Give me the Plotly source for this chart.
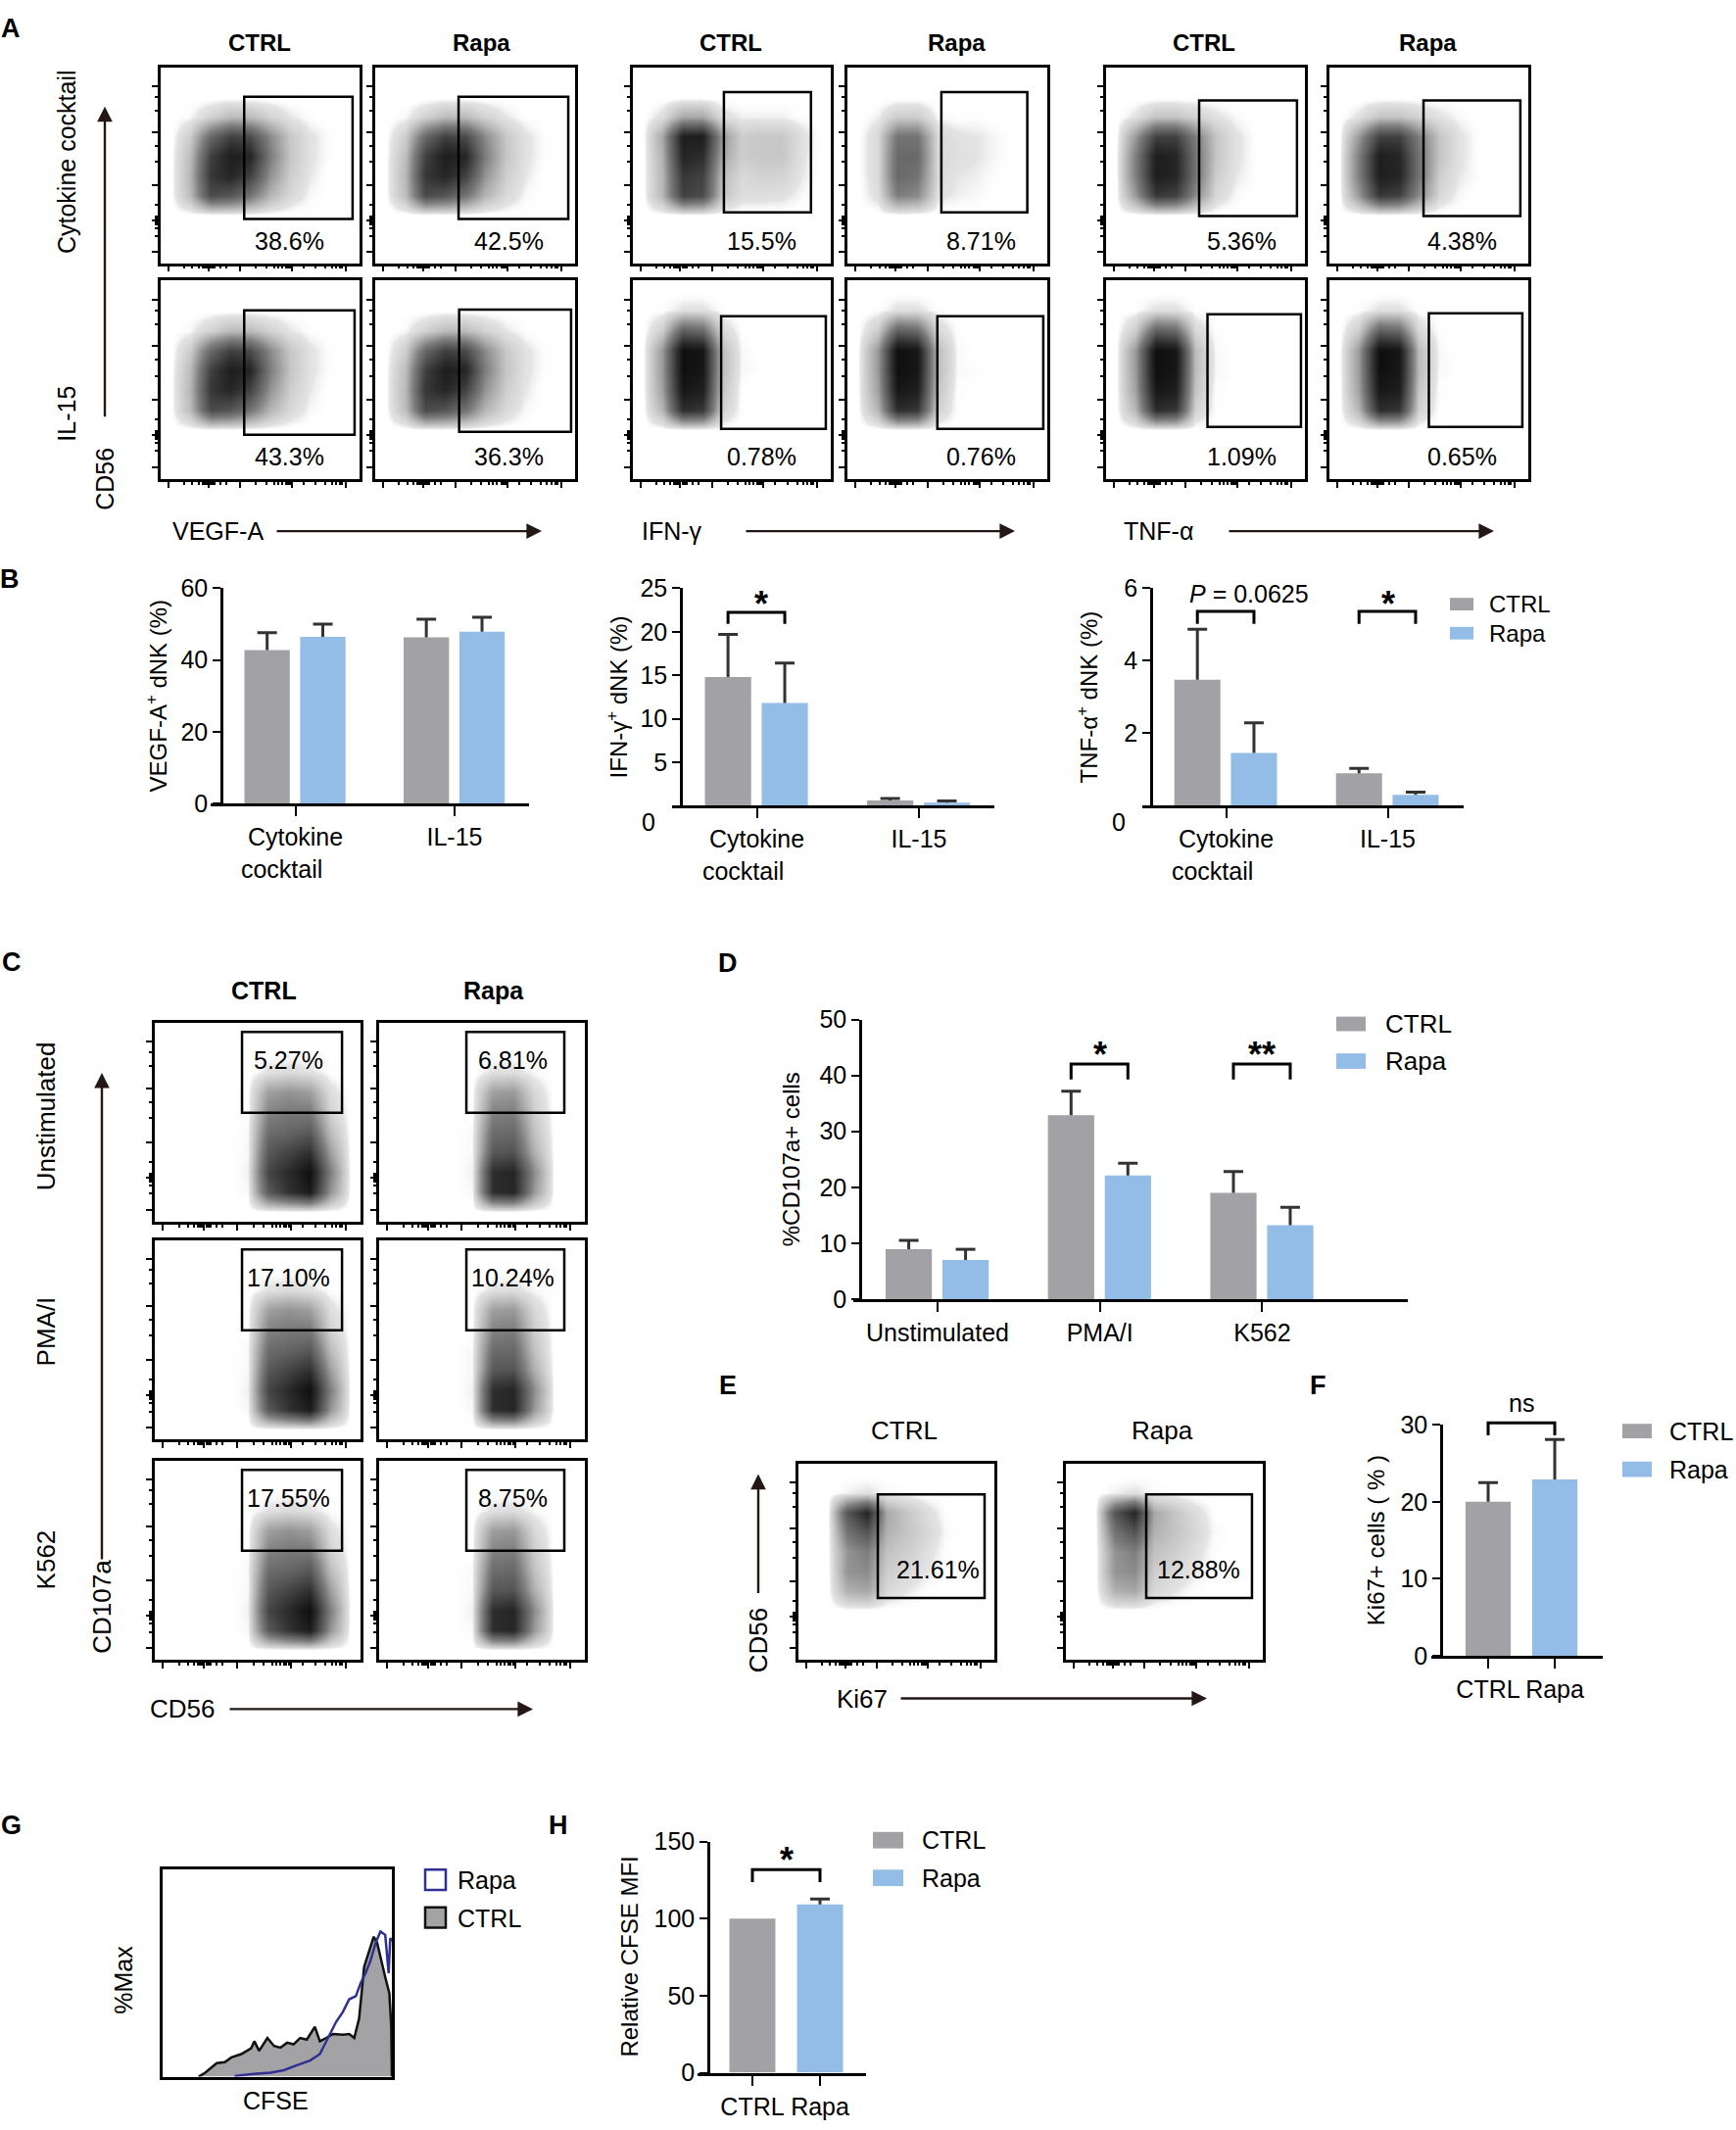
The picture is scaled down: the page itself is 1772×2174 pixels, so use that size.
import plotly.graph_objects as go

W, H = 1772, 2174
FONT = "Liberation Sans, Arial, sans-serif"
GREY = "#a2a2a6"
BLUE = "#93bde6"
INK = "#231815"
NB = "\u00a0"

# ---------------- data ----------------
# A - flow plots: gated percentages
a_titles = ["CTRL", "Rapa", "CTRL", "Rapa", "CTRL", "Rapa"]
a_pct_cocktail = ["38.6%", "42.5%", "15.5%", "8.71%", "5.36%", "4.38%"]
a_pct_il15 = ["43.3%", "36.3%", "0.78%", "0.76%", "1.09%", "0.65%"]
a_markers = ["VEGF-A", "IFN-γ", "TNF-α"]

# B - bar charts (mean, upper error)
b_groups = ["Cytokine<br>cocktail" + NB * 4, "IL-15"]
vegf_ctrl = [42.8, 46.3]
vegf_ctrl_err = [4.8, 5.1]
vegf_rapa = [46.5, 47.9]
vegf_rapa_err = [3.5, 4.0]
ifng_ctrl = [14.8, 0.6]
ifng_ctrl_err = [4.9, 0.25]
ifng_rapa = [11.8, 0.35]
ifng_rapa_err = [4.6, 0.2]
tnfa_ctrl = [3.48, 0.9]
tnfa_ctrl_err = [1.39, 0.13]
tnfa_rapa = [1.46, 0.3]
tnfa_rapa_err = [0.83, 0.08]

# C - CD107a flow plots
c_rows = ["Unstimulated", "PMA/I", "K562"]
c_pct = [["5.27%", "6.81%"], ["17.10%", "10.24%"], ["17.55%", "8.75%"]]

# D
d_groups = ["Unstimulated", "PMA/I", "K562"]
cd107_ctrl = [8.9, 32.9, 19.0]
cd107_ctrl_err = [1.6, 4.3, 3.8]
cd107_rapa = [7.0, 22.1, 13.2]
cd107_rapa_err = [1.9, 2.2, 3.2]

# E / F
e_pct = ["21.61%", "12.88%"]
f_groups = ["CTRL", "Rapa"]
ki67_vals = [20.0, 22.9]
ki67_err = [2.5, 5.2]

# G - CFSE histogram (% of box height)
cfse_x_ctrl = [15.7, 18.6, 23.6, 27.1, 30.0, 34.3, 38.6, 40.0, 42.1, 45.7, 48.6, 51.4, 54.3,
               57.1, 60.0, 62.9, 66.4, 68.6, 71.4, 74.3, 78.6, 81.4, 83.6, 85.7, 87.9, 90.0,
               92.1, 93.6, 95.0, 97.1, 98.9, 99.7, 100]
cfse_y_ctrl = [0, 1.9, 6.5, 7.0, 9.3, 10.9, 13.7, 17.1, 12.5, 18.7, 14.8, 14.0, 16.4,
               15.6, 18.7, 17.9, 24.1, 17.1, 18.7, 20.6, 20.2, 20.6, 18.7, 28.0, 53.0, 60.7,
               67.6, 64.5, 57.5, 48.1, 40.3, 24.9, 0]
cfse_x_rapa = [31.4, 38.6, 47.1, 52.9, 58.6, 64.3, 68.6, 70.7, 72.9, 75.7, 78.6, 81.4,
               84.3, 86.4, 88.6, 90.7, 92.9, 95.0, 97.1, 98.6, 99.3, 100]
cfse_y_rapa = [0.3, 1.2, 1.9, 3.1, 5.5, 7.8, 10.9, 15.6, 20.2, 26.5, 31.2, 37.4,
               38.9, 45.2, 50.2, 56.1, 64.6, 70.1, 68.5, 50.0, 67.0, 65.4]

# H
h_groups = ["CTRL", "Rapa"]
cfse_mfi = [100, 109.3]
cfse_mfi_err = [0, 3.5]

# coarse event-density grids of the dot plots (rows top -> bottom, 10x10)
GRID = [0.05, 0.15, 0.25, 0.35, 0.45, 0.55, 0.65, 0.75, 0.85, 0.95]
Z = [0] * 10
vegf_cloud = [Z, Z,
              [0, .02, .10, .18, .18, .10, .04, .01, 0, 0],
              [0, .12, .50, .70, .65, .35, .14, .05, .01, 0],
              [0, .18, .70, .90, .85, .40, .15, .05, .01, 0],
              [0, .20, .75, .85, .70, .32, .12, .04, 0, 0],
              [0, .18, .65, .60, .45, .20, .08, .02, 0, 0],
              Z, Z, Z]
ifn_ctrl_cloud = [Z, Z,
                  [0, .06, .25, .25, .06, .03, .03, .03, .01, 0],
                  [0, .25, .90, .90, .30, .12, .14, .14, .06, 0],
                  [0, .22, .85, .80, .25, .12, .14, .14, .05, 0],
                  [0, .20, .75, .70, .18, .08, .10, .10, .04, 0],
                  [0, .20, .70, .65, .15, .06, .06, .05, .02, 0],
                  Z, Z, Z]
ifn_rapa_cloud = [Z, Z,
                  [0, .03, .12, .12, .02, .01, .01, 0, 0, 0],
                  [0, .08, .45, .45, .08, .05, .04, .02, 0, 0],
                  [0, .08, .50, .50, .08, .06, .04, .02, 0, 0],
                  [0, .08, .50, .45, .08, .04, .03, .01, 0, 0],
                  [0, .06, .40, .35, .05, .03, .02, 0, 0, 0],
                  Z, Z, Z]
column_cloud = [Z,
                [0, .01, .05, .05, .01, 0, 0, 0, 0, 0],
                [0, .12, .55, .50, .08, .01, 0, 0, 0, 0],
                [0, .30, 1.0, .95, .18, .02, 0, 0, 0, 0],
                [0, .30, 1.0, .95, .18, .02, .01, 0, 0, 0],
                [0, .28, .95, .90, .15, .01, 0, 0, 0, 0],
                [0, .20, .80, .75, .10, .01, 0, 0, 0, 0],
                Z, Z, Z]
tnf_cloud = [Z, Z,
             [0, .05, .15, .15, .10, .05, .02, 0, 0, 0],
             [0, .30, .70, .70, .40, .15, .05, .01, 0, 0],
             [0, .40, .90, .85, .45, .15, .05, .01, 0, 0],
             [0, .40, .90, .85, .45, .12, .04, .01, 0, 0],
             [0, .30, .75, .70, .35, .08, .02, 0, 0, 0],
             Z, Z, Z]
cd107_ctrl_cloud = [Z, Z,
                    [0, 0, 0, 0, 0, .05, .07, .05, .01, 0],
                    [0, 0, 0, 0, .01, .28, .32, .28, .06, 0],
                    [0, 0, 0, 0, .01, .38, .42, .42, .10, 0],
                    [0, 0, 0, 0, .02, .48, .52, .58, .18, 0],
                    [0, 0, 0, 0, .02, .58, .68, .78, .28, 0],
                    [0, 0, 0, 0, .03, .68, .82, 1.0, .40, 0],
                    [0, 0, 0, 0, .02, .58, .78, .92, .32, 0],
                    Z]
cd107_rapa_cloud = [Z, Z,
                    [0, 0, 0, 0, 0, .05, .06, .02, 0, 0],
                    [0, 0, 0, 0, .01, .28, .30, .08, 0, 0],
                    [0, 0, 0, 0, .01, .38, .40, .12, 0, 0],
                    [0, 0, 0, 0, .02, .48, .50, .16, 0, 0],
                    [0, 0, 0, 0, .02, .58, .60, .22, 0, 0],
                    [0, 0, 0, 0, .03, .80, .85, .35, 0, 0],
                    [0, 0, 0, 0, .02, .80, .85, .30, 0, 0],
                    Z]
ki67_cloud = [Z,
              [0, 0, .03, .05, .02, .01, 0, 0, 0, 0],
              [0, 0, .60, .85, .25, .15, .07, .01, 0, 0],
              [0, 0, .45, .60, .22, .15, .09, .02, 0, 0],
              [0, 0, .32, .40, .16, .12, .06, .01, 0, 0],
              [0, 0, .32, .35, .12, .08, .04, .01, 0, 0],
              [0, 0, .22, .25, .08, .04, .01, 0, 0, 0],
              Z, Z, Z]

DOT_SCALE = [[0, "rgba(255,255,255,0)"], [0.04, "rgb(228,228,228)"],
             [0.4, "rgb(125,125,125)"], [0.8, "rgb(45,45,45)"], [1, "rgb(15,15,15)"]]

# ---------------- helpers ----------------
traces, shapes, annots = [], [], []
layout = {}
counter = [0]


def fx(x):
    return x / W


def fy(y):
    return 1 - y / H


def new_axes():
    counter[0] += 1
    n = counter[0]
    sfx = "" if n == 1 else str(n)
    return "x" + sfx, "y" + sfx, "xaxis" + sfx, "yaxis" + sfx


def text(x, y, s, size=25, bold=False, angle=0, xanchor="center"):
    if bold:
        s = "<b>" + s + "</b>"
    annots.append(dict(x=fx(x), y=fy(y), xref="paper", yref="paper", text=s, showarrow=False,
                       font=dict(family=FONT, size=size, color="black"), textangle=angle,
                       xanchor=xanchor, yanchor="middle"))


def arrow(x0, y0, x1, y1):
    annots.append(dict(x=fx(x1), y=fy(y1), xref="paper", yref="paper", ax=x0 - x1, ay=y0 - y1,
                       axref="pixel", ayref="pixel", text="", showarrow=True, arrowhead=2,
                       arrowsize=1.3, arrowwidth=2.4, arrowcolor=INK))


def rect(x0, y0, x1, y1, fill, line_color, lw=0):
    shapes.append(dict(type="rect", xref="paper", yref="paper", x0=fx(x0), x1=fx(x1),
                       y0=fy(y1), y1=fy(y0), fillcolor=fill,
                       line=dict(color=line_color, width=lw)))


def bracket(xl, xr, yt, yb):
    path = "M{},{} L{},{} L{},{} L{},{}".format(fx(xl), fy(yb), fx(xl), fy(yt),
                                                fx(xr), fy(yt), fx(xr), fy(yb))
    shapes.append(dict(type="path", xref="paper", yref="paper", path=path,
                       line=dict(color="black", width=3)))


FLOW_XMAJ = [0.04, 0.24, 0.40, 0.66, 0.93]
FLOW_XMIN = [0.12, 0.16, 0.19, 0.21, 0.22, 0.23, 0.25, 0.26, 0.27, 0.30, 0.33, 0.48, 0.53,
             0.57, 0.59, 0.61, 0.63, 0.64, 0.65, 0.72, 0.78, 0.83, 0.86, 0.88, 0.90, 0.91]
FLOW_YMAJ = [0.06, 0.22, 0.40, 0.67, 0.905]
FLOW_YMIN = [0.14, 0.18, 0.20, 0.21, 0.23, 0.24, 0.30, 0.52, 0.60, 0.78, 0.85]


def flow_plot(box, grid, gate, label, label_xy):
    (x0, x1), (y0, y1) = box
    xid, yid, xk, yk = new_axes()
    common = dict(range=[0, 1], showline=True, mirror=True, linecolor="black", linewidth=2.5,
                  ticks="outside", ticklen=6, tickwidth=1.5, tickcolor="black",
                  showticklabels=False, showgrid=False, zeroline=False, fixedrange=True)
    layout[xk] = dict(common, domain=[fx(x0), fx(x1)], anchor=yid, tickvals=FLOW_XMAJ,
                      minor=dict(tickvals=FLOW_XMIN, ticklen=3, ticks="outside",
                                 tickcolor="black"))
    layout[yk] = dict(common, domain=[fy(y1), fy(y0)], anchor=xid, tickvals=FLOW_YMAJ,
                      minor=dict(tickvals=FLOW_YMIN, ticklen=3, ticks="outside",
                                 tickcolor="black"))
    traces.append(go.Heatmap(z=grid[::-1], x=GRID, y=GRID, zmin=0, zmax=1, zsmooth="best",
                             colorscale=DOT_SCALE, showscale=False, hoverinfo="skip",
                             xaxis=xid, yaxis=yid))
    gx0, gx1, gy0, gy1 = gate
    shapes.append(dict(type="rect", xref=xid, yref=yid, x0=gx0, x1=gx1, y0=gy0, y1=gy1,
                       line=dict(color="black", width=2.5)))
    annots.append(dict(x=label_xy[0], y=label_xy[1], xref=xid, yref=yid, text=label,
                       showarrow=False, font=dict(family=FONT, size=25, color="black")))


def bar_chart(g, cats, series, ytitle, ytitle_x):
    xid, yid, xk, yk = new_axes()
    r0 = (g["x0"] - g["c0"]) / g["step"]
    r1 = (g["x1"] - g["c0"]) / g["step"]
    layout[xk] = dict(domain=[fx(g["x0"]), fx(g["x1"])], range=[r0, r1], anchor=yid,
                      showline=True, linecolor="black", linewidth=3, ticks="outside",
                      ticklen=10, tickwidth=2, tickcolor="black",
                      tickvals=list(range(len(cats))), ticktext=cats,
                      tickfont=dict(family=FONT, size=25, color="black"),
                      showgrid=False, zeroline=False, fixedrange=True)
    layout[yk] = dict(domain=[fy(g["ybot"]), fy(g["ytop"])], range=[0, g["ymax"]],
                      anchor="free", position=fx(g["yax"]), showline=True, linecolor="black",
                      linewidth=2.5, ticks="outside", ticklen=8, tickwidth=2,
                      tickcolor="black", tickvals=g["ticks"],
                      tickfont=dict(family=FONT, size=25, color="black"),
                      showgrid=False, zeroline=False, fixedrange=True)
    cap = 10 / g["step"]
    for xs, vals, errs, color, off, wid in series:
        traces.append(go.Bar(x=xs, y=vals, offset=off, width=wid, xaxis=xid, yaxis=yid,
                             marker=dict(color=color, line=dict(width=0)), hoverinfo="skip"))
        wx, wy = [], []
        for x, v, e in zip(xs, vals, errs):
            if e <= 0:
                continue
            xc = x + off + wid / 2
            wx += [xc, xc, None, xc - cap, xc + cap, None]
            wy += [v, v + e, None, v + e, v + e, None]
        if wx:
            traces.append(go.Scatter(x=wx, y=wy, mode="lines", xaxis=xid, yaxis=yid,
                                     line=dict(color="#333333", width=3), hoverinfo="skip",
                                     cliponaxis=False))
    text(ytitle_x, (g["ytop"] + g["ybot"]) / 2, ytitle, size=24, angle=-90)


def cat_px(g, i, center):
    return g["c0"] + (i + center) * g["step"]


def legend(xs0, xs1, xt, rows, size=25):
    for y0, y1, color, label in rows:
        rect(xs0, y0, xs1, y1, color, color)
        text(xt, (y0 + y1) / 2, label, size=size, xanchor="left")


OFF_C, OFF_R, BW = -0.32, 0.03, 0.285
CEN_C, CEN_R = OFF_C + BW / 2, OFF_R + BW / 2

# ---------------- panel A ----------------
a_cols = [(164, 367), (383, 587), (646, 848), (865, 1069), (1129, 1332), (1357, 1560)]
a_rows = [(56, 258), (276, 481)]
a_title_x = [265, 492, 746, 976, 1229, 1457]
a_clouds = [[vegf_cloud, vegf_cloud, ifn_ctrl_cloud, ifn_rapa_cloud, tnf_cloud, tnf_cloud],
            [vegf_cloud, vegf_cloud, column_cloud, column_cloud, column_cloud, column_cloud]]
a_gates = [[(0.42, 0.965, 0.227, 0.852), (0.417, 0.966, 0.227, 0.852),
            (0.46, 0.90, 0.26, 0.876), (0.47, 0.90, 0.26, 0.876),
            (0.468, 0.96, 0.241, 0.833), (0.473, 0.96, 0.241, 0.833)],
           [(0.42, 0.975, 0.223, 0.85), (0.42, 0.98, 0.238, 0.854),
            (0.446, 0.975, 0.252, 0.82), (0.45, 0.98, 0.252, 0.82),
            (0.51, 0.98, 0.262, 0.83), (0.50, 0.97, 0.262, 0.835)]]
a_label_x = [0.65, 0.667, 0.653, 0.667, 0.68, 0.665]
for r, pcts in enumerate([a_pct_cocktail, a_pct_il15]):
    for c in range(6):
        flow_plot((a_cols[c], a_rows[r]), a_clouds[r][c], a_gates[r][c], pcts[c],
                  (a_label_x[c], 0.115))
for c in range(6):
    text(a_title_x[c], 30, a_titles[c], size=24, bold=True)
text(11, 15, "A", size=27, bold=True)
text(68, 153, "Cytokine cocktail", size=25, angle=-90)
text(68, 414, "IL-15", size=25, angle=-90)
text(107, 481, "CD56", size=25, angle=-90)
arrow(107, 414, 107, 96)
for lbl, lx, ax0, ax1 in zip(a_markers, [222, 686, 1182], [281, 760, 1253], [553, 1036, 1525]):
    text(lx, 535, lbl, size=25)
    arrow(ax0, 535, ax1, 535)

# ---------------- panel B ----------------
g_vegf = dict(x0=215, x1=540, c0=301.5, step=162.5, ytop=594, ybot=817, ymax=60,
              yax=226, ticks=[0, 20, 40, 60])
g_ifng = dict(x0=686, x1=1015, c0=772.5, step=165.5, ytop=594, ybot=819, ymax=25,
              yax=695, ticks=[5, 10, 15, 20, 25])
g_tnfa = dict(x0=1166, x1=1494, c0=1251.5, step=165, ytop=594, ybot=819, ymax=6,
              yax=1175, ticks=[2, 4, 6])
for g, ctrl, ce, rapa, re_, title, tx in [
        (g_vegf, vegf_ctrl, vegf_ctrl_err, vegf_rapa, vegf_rapa_err,
         "VEGF-A<sup>+</sup> dNK (%)", 160),
        (g_ifng, ifng_ctrl, ifng_ctrl_err, ifng_rapa, ifng_rapa_err,
         "IFN-γ<sup>+</sup> dNK (%)", 630),
        (g_tnfa, tnfa_ctrl, tnfa_ctrl_err, tnfa_rapa, tnfa_rapa_err,
         "TNF-α<sup>+</sup> dNK (%)", 1110)]:
    bar_chart(g, b_groups, [([0, 1], ctrl, ce, GREY, OFF_C, BW),
                            ([0, 1], rapa, re_, BLUE, OFF_R, BW)], title, tx)
text(662, 836, "0", size=25)
text(1142, 836, "0", size=25)
text(10, 585, "B", size=27, bold=True)
bracket(cat_px(g_ifng, 0, CEN_C), cat_px(g_ifng, 0, CEN_R), 619, 631)
text(777, 610, "*", size=36, bold=True)
bracket(cat_px(g_tnfa, 0, CEN_C), cat_px(g_tnfa, 0, CEN_R), 618, 631)
text(1275, 600, "<i>P</i> = 0.0625", size=25)
bracket(cat_px(g_tnfa, 1, CEN_C), cat_px(g_tnfa, 1, CEN_R), 618, 631)
text(cat_px(g_tnfa, 1, 0), 610, "*", size=36, bold=True)
legend(1480, 1504, 1518, [(604, 617, GREY, "CTRL"), (634, 647, BLUE, "Rapa")], size=24)

# ---------------- panel C ----------------
c_cols = [(158, 368), (387, 597)]
c_rows_px = [(1043, 1249), (1268, 1474), (1496, 1702)]
c_clouds = [cd107_ctrl_cloud, cd107_rapa_cloud]
c_gates = [(0.424, 0.91, 0.547, 0.953), (0.424, 0.90, 0.547, 0.953)]
for r in range(3):
    for c in range(2):
        flow_plot((c_cols[c], c_rows_px[r]), c_clouds[c], c_gates[c], c_pct[r][c],
                  (0.65, 0.81))
text(12, 981, "C", size=27, bold=True)
text(269, 1010, "CTRL", size=25, bold=True)
text(504, 1010, "Rapa", size=25, bold=True)
for lbl, yy in zip(c_rows, [1140, 1363, 1599]):
    text(47, yy, lbl, size=26, angle=-90)
arrow(104, 1593, 104, 1095)
text(104, 1647, "CD107a", size=26, angle=-90)
text(186, 1753, "CD56", size=26)
arrow(233, 1753, 544, 1753)

# ---------------- panel D ----------------
g_d = dict(x0=871, x1=1437, c0=957, step=165.7, ytop=1040, ybot=1329, ymax=50,
           yax=878, ticks=[0, 10, 20, 30, 40, 50])
bar_chart(g_d, d_groups, [([0, 1, 2], cd107_ctrl, cd107_ctrl_err, GREY, OFF_C, BW),
                          ([0, 1, 2], cd107_rapa, cd107_rapa_err, BLUE, OFF_R, BW)],
          "%CD107a+ cells", 807)
text(743, 982, "D", size=27, bold=True)
bracket(cat_px(g_d, 1, CEN_C), cat_px(g_d, 1, CEN_R), 1086, 1102)
text(cat_px(g_d, 1, 0), 1076, "*", size=36, bold=True)
bracket(cat_px(g_d, 2, CEN_C), cat_px(g_d, 2, CEN_R), 1086, 1102)
text(cat_px(g_d, 2, 0), 1076, "**", size=36, bold=True)
legend(1364, 1394, 1412, [(1037, 1052, GREY, "CTRL"), (1075, 1091, BLUE, "Rapa")], size=26)

# ---------------- panel E ----------------
e_cols = [(815, 1015), (1088, 1289)]
e_gates = [(0.405, 0.95, 0.315, 0.842), (0.408, 0.945, 0.315, 0.842)]
e_label_x = [0.71, 0.672]
for c in range(2):
    flow_plot((e_cols[c], (1499, 1702)), ki67_cloud, e_gates[c], e_pct[c],
              (e_label_x[c], 0.458))
text(743, 1418, "E", size=27, bold=True)
text(923, 1465, "CTRL", size=26)
text(1186, 1465, "Rapa", size=26)
arrow(774, 1633, 774, 1510)
text(774, 1682, "CD56", size=26, angle=-90)
text(880, 1742, "Ki67", size=26)
arrow(918, 1742, 1232, 1742)

# ---------------- panel F ----------------
g_f = dict(x0=1461, x1=1636, c0=1519, step=68, ytop=1459, ybot=1698, ymax=30,
           yax=1471, ticks=[0, 10, 20, 30])
bar_chart(g_f, f_groups, [([0], ki67_vals[:1], ki67_err[:1], GREY, -0.34, 0.68),
                          ([1], ki67_vals[1:], ki67_err[1:], BLUE, -0.34, 0.68)],
          "Ki67+ cells ( % )", 1404)
text(1345, 1418, "F", size=27, bold=True)
bracket(cat_px(g_f, 0, 0), cat_px(g_f, 1, 0), 1457, 1470)
text(cat_px(g_f, 0, 0.5), 1436, "ns", size=25)
legend(1656, 1686, 1702, [(1458, 1473, GREY, "CTRL"), (1497, 1513, BLUE, "Rapa")], size=25)

# ---------------- panel G ----------------
xid, yid, xk, yk = new_axes()
g_common = dict(showline=True, mirror=True, linecolor="black", linewidth=2.5, ticks="",
                showticklabels=False, showgrid=False, zeroline=False, fixedrange=True)
layout[xk] = dict(g_common, domain=[fx(166), fx(400)], range=[0, 100], anchor=yid)
layout[yk] = dict(g_common, domain=[fy(2133), fy(1919)], range=[0, 100], anchor=xid)
traces.append(go.Scatter(x=cfse_x_ctrl, y=cfse_y_ctrl, mode="lines", fill="tozeroy",
                         fillcolor="#a3a3a6", line=dict(color="#111111", width=2.5),
                         xaxis=xid, yaxis=yid, hoverinfo="skip"))
traces.append(go.Scatter(x=cfse_x_rapa, y=cfse_y_rapa, mode="lines",
                         line=dict(color="#2e3192", width=2.5),
                         xaxis=xid, yaxis=yid, hoverinfo="skip"))
text(11, 1873, "G", size=27, bold=True)
text(126, 2033, "%Max", size=25, angle=-90)
text(281, 2158, "CFSE", size=25)
rect(434, 1919, 455, 1940, "white", "#2e3192", 2.5)
text(465, 1930, "Rapa", size=25, xanchor="left")
rect(434, 1958, 455, 1979, "#a3a3a6", "#111111", 2.5)
text(465, 1969, "CTRL", size=25, xanchor="left")

# ---------------- panel H ----------------
g_h = dict(x0=712, x1=884, c0=768, step=69, ytop=1890, ybot=2129, ymax=150,
           yax=723, ticks=[0, 50, 100, 150])
bar_chart(g_h, h_groups, [([0], cfse_mfi[:1], cfse_mfi_err[:1], GREY, -0.34, 0.68),
                          ([1], cfse_mfi[1:], cfse_mfi_err[1:], BLUE, -0.34, 0.68)],
          "Relative CFSE MFI", 643)
text(570, 1873, "H", size=27, bold=True)
bracket(cat_px(g_h, 0, 0), cat_px(g_h, 1, 0), 1919, 1932)
text(cat_px(g_h, 0, 0.5), 1909, "*", size=36, bold=True)
legend(891, 922, 939, [(1880, 1897, GREY, "CTRL"), (1919, 1936, BLUE, "Rapa")], size=25)

# ---------------- figure ----------------
fig = go.Figure(data=traces)
fig.update_layout(**layout)
fig.update_layout(width=W, height=H, margin=dict(l=0, r=0, t=0, b=0), showlegend=False,
                  barmode="overlay", paper_bgcolor="white", plot_bgcolor="white",
                  font=dict(family=FONT, color="black"), shapes=shapes, annotations=annots)
# page margin off so the figure sits at the window's top-left corner
fig.write_html("out.html", config={"displayModeBar": False},
               post_script="document.body.style.margin='0';"
                           "document.body.style.overflow='hidden';")
